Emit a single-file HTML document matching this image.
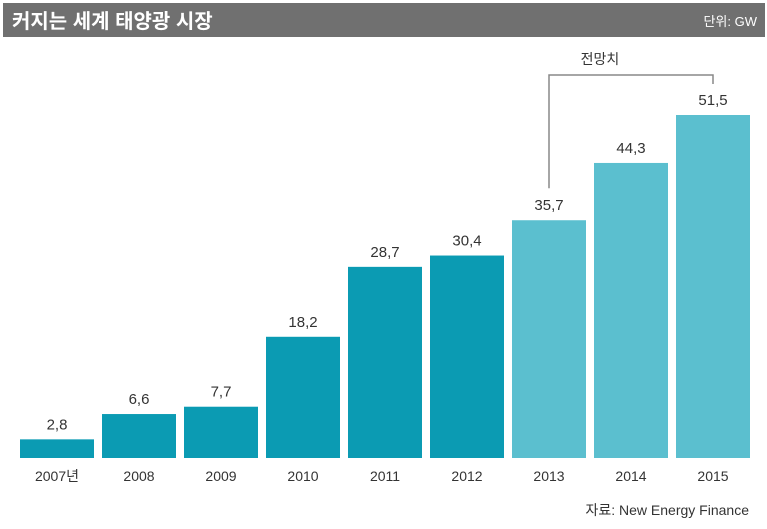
<!DOCTYPE html>
<html><head><meta charset="utf-8"><style>
body{margin:0;width:767px;height:524px;background:#fff;overflow:hidden;font-family:"Liberation Sans","Noto Sans CJK KR",sans-serif;}
</style></head><body>
<svg id="c" width="767" height="524">
<rect x="3" y="3" width="762" height="34" fill="#707070"/>
<text x="12" y="28" font-size="20" font-weight="bold" fill="#fff">커지는 세계 태양광 시장</text>
<text x="757" y="26" font-size="13" fill="#fff" text-anchor="end">단위: GW</text>
<text x="600" y="64" font-size="14" fill="#333" text-anchor="middle">전망치</text>
<polyline id="br" fill="none" stroke="#888" stroke-width="1.5"/>
<g id="bars"></g>
<text x="749" y="515" font-size="14" fill="#333" text-anchor="end">자료: New Energy Finance</text>
</svg>
<script>
const categories=["2007년","2008","2009","2010","2011","2012","2013","2014","2015"];
const values=[2.8,6.6,7.7,18.2,28.7,30.4,35.7,44.3,51.5];
const labels=["2,8","6,6","7,7","18,2","28,7","30,4","35,7","44,3","51,5"];
const forecast=[false,false,false,false,false,false,true,true,true];
const base=458, scale=(458-115)/51.5, x0=20, step=82, bw=74;
const x=i=>x0+i*step, y=v=>base-v*scale;
const g=document.getElementById('bars'), ns="http://www.w3.org/2000/svg";
categories.forEach((c,i)=>{
  const r=document.createElementNS(ns,'rect');
  
  
  r.setAttribute('x',x(i));r.setAttribute('y',y(values[i]));
  r.setAttribute('width',bw);r.setAttribute('height',base-y(values[i]));
  r.setAttribute('fill',forecast[i]?'#5bbfcf':'#0b9bb3');
  g.appendChild(r);
  const t=document.createElementNS(ns,'text');
  
  
  t.setAttribute('x',x(i)+bw/2);t.setAttribute('y',y(values[i])-10);
  t.setAttribute('font-size','15');t.setAttribute('fill','#333');t.setAttribute('text-anchor','middle');
  t.textContent=labels[i];g.appendChild(t);
  const l=document.createElementNS(ns,'text');
  
  
  l.setAttribute('x',x(i)+bw/2);l.setAttribute('y',481);
  l.setAttribute('font-size','14');l.setAttribute('fill','#333');l.setAttribute('text-anchor','middle');
  l.textContent=c;g.appendChild(l);
});
const cx6=x(6)+bw/2, cx8=x(8)+bw/2;
document.getElementById('br').setAttribute('points',`${cx6},${y(values[6])-32} ${cx6},75 ${cx8},75 ${cx8},84`);
</script>
</body></html>
